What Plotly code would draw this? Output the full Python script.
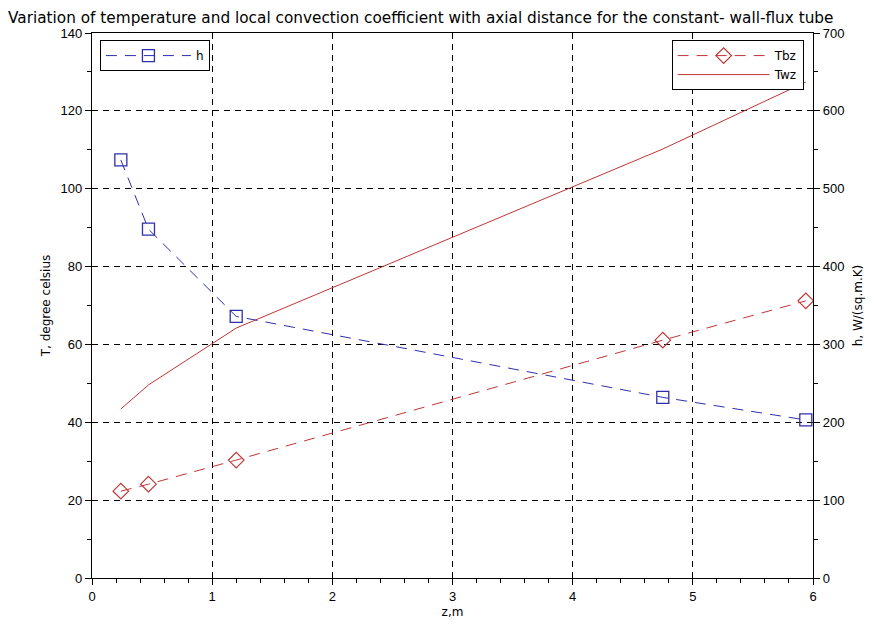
import plotly.graph_objects as go

z = [0.24, 0.47, 1.2, 4.75, 5.94]
h_vals = [537, 448, 336, 232, 203]
tbz_vals = [22.3, 24.1, 30.3, 61.1, 71.2]
twz_vals = [43.4, 49.6, 64.2, 110.2, 127.4]

blue = "#2f2fae"
red = "#c23535"
font = "Liberation Sans, Arial, sans-serif"
tfont = "DejaVu Sans, sans-serif"

fig = go.Figure()
fig.add_trace(go.Scatter(x=z, y=h_vals, name="h", yaxis="y2", mode="lines+markers",
                         line=dict(color=blue, width=1, dash="11px,8px"),
                         marker=dict(symbol="square-open", size=12, color=blue, line=dict(width=1.3)),
                         legend="legend", showlegend=True))
fig.add_trace(go.Scatter(x=z, y=tbz_vals, name="Tbz", mode="lines+markers",
                         line=dict(color=red, width=1, dash="11px,8px"),
                         marker=dict(symbol="diamond-open", size=12, color=red, line=dict(width=1.2)),
                         legend="legend2", showlegend=True))
fig.add_trace(go.Scatter(x=z, y=twz_vals, name="Twz", mode="lines",
                         line=dict(color=red, width=1),
                         legend="legend2", showlegend=True))

axis_common = dict(showline=True, linecolor="black", linewidth=1.2, ticks="outside",
                   ticklen=6, tickcolor="black", zeroline=False, automargin=False,
                   tickfont=dict(family=font, size=13, color="black"))
grid = dict(gridcolor="black", griddash="6px,5px", gridwidth=1)

fig.update_layout(
    width=890, height=626,
    paper_bgcolor="white", plot_bgcolor="white",
    showlegend=True,
    margin=dict(l=84, r=85, t=25, b=56),
    title=dict(text="Variation of temperature and local convection coefficient with axial distance for the constant- wall-flux tube",
               x=0.0, xanchor="left", y=0.993, yanchor="top",
               font=dict(family=tfont, size=15.3, color="black")),
    xaxis=dict(range=[0, 6], dtick=1, mirror=True, showgrid=True,
               minor=dict(dtick=0.2, ticklen=4, tickcolor="black", ticks="outside", showgrid=False),
               title=dict(text="z,m", font=dict(family=tfont, size=12, color="black"), standoff=4),
               **axis_common, **grid),
    yaxis=dict(range=[0, 140], dtick=20, showgrid=True,
               minor=dict(dtick=10, ticklen=4, tickcolor="black", ticks="outside", showgrid=False),
               title=dict(text="T, degree celsius", font=dict(family=tfont, size=12, color="black"), standoff=7),
               **axis_common, **grid),
    yaxis2=dict(range=[0, 700], dtick=100, overlaying="y", side="right", showgrid=False,
                minor=dict(dtick=50, ticklen=4, tickcolor="black", ticks="outside", showgrid=False),
                title=dict(text="h, W/(sq.m.K)", font=dict(family=tfont, size=12, color="black"), standoff=10),
                **axis_common),
    legend=dict(x=0.011, y=0.987, xanchor="left", yanchor="top", bgcolor="white",
                bordercolor="black", borderwidth=1, font=dict(family=tfont, size=12, color="black"),
                itemwidth=85),
    legend2=dict(x=0.987, y=0.987, xanchor="right", yanchor="top", bgcolor="white",
                 bordercolor="black", borderwidth=1, font=dict(family=tfont, size=12, color="black"),
                 itemwidth=92, tracegroupgap=0),
)

fig.write_html("out.html")
